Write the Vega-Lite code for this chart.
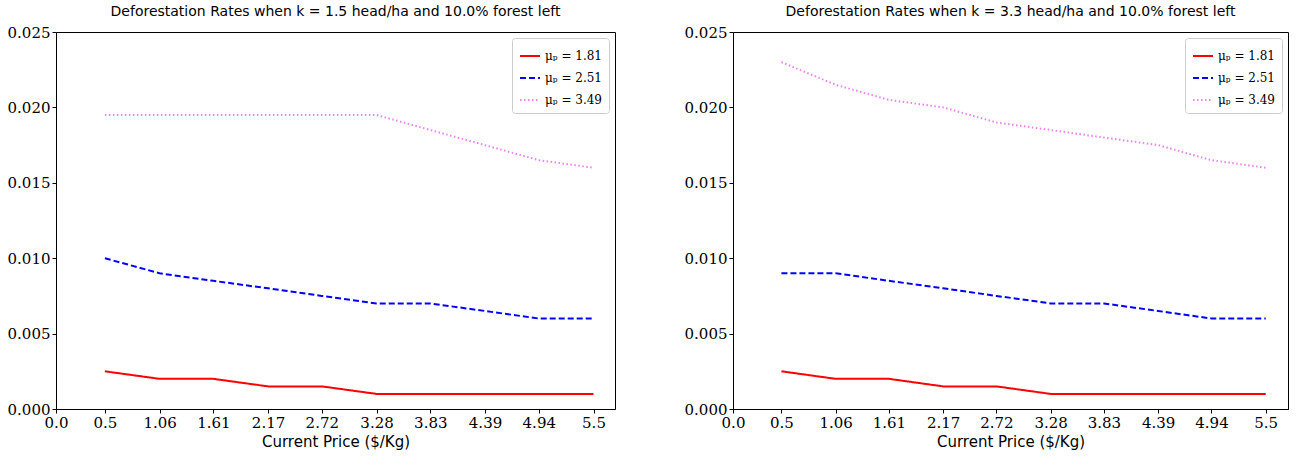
{
  "$schema": "https://vega.github.io/schema/vega-lite/v6.json",
  "padding": {"left": 6, "top": 4, "right": 4, "bottom": 4},
  "background": "white",
  "spacing": 67,
  "datasets": {
    "left": [
      {"price": 0.5, "rate": 0.0025, "series": "μₚ = 1.81"},
      {"price": 1.06, "rate": 0.002, "series": "μₚ = 1.81"},
      {"price": 1.61, "rate": 0.002, "series": "μₚ = 1.81"},
      {"price": 2.17, "rate": 0.0015, "series": "μₚ = 1.81"},
      {"price": 2.72, "rate": 0.0015, "series": "μₚ = 1.81"},
      {"price": 3.28, "rate": 0.001, "series": "μₚ = 1.81"},
      {"price": 3.83, "rate": 0.001, "series": "μₚ = 1.81"},
      {"price": 4.39, "rate": 0.001, "series": "μₚ = 1.81"},
      {"price": 4.94, "rate": 0.001, "series": "μₚ = 1.81"},
      {"price": 5.5, "rate": 0.001, "series": "μₚ = 1.81"},
      {"price": 0.5, "rate": 0.010, "series": "μₚ = 2.51"},
      {"price": 1.06, "rate": 0.009, "series": "μₚ = 2.51"},
      {"price": 1.61, "rate": 0.0085, "series": "μₚ = 2.51"},
      {"price": 2.17, "rate": 0.008, "series": "μₚ = 2.51"},
      {"price": 2.72, "rate": 0.0075, "series": "μₚ = 2.51"},
      {"price": 3.28, "rate": 0.007, "series": "μₚ = 2.51"},
      {"price": 3.83, "rate": 0.007, "series": "μₚ = 2.51"},
      {"price": 4.39, "rate": 0.0065, "series": "μₚ = 2.51"},
      {"price": 4.94, "rate": 0.006, "series": "μₚ = 2.51"},
      {"price": 5.5, "rate": 0.006, "series": "μₚ = 2.51"},
      {"price": 0.5, "rate": 0.0195, "series": "μₚ = 3.49"},
      {"price": 1.06, "rate": 0.0195, "series": "μₚ = 3.49"},
      {"price": 1.61, "rate": 0.0195, "series": "μₚ = 3.49"},
      {"price": 2.17, "rate": 0.0195, "series": "μₚ = 3.49"},
      {"price": 2.72, "rate": 0.0195, "series": "μₚ = 3.49"},
      {"price": 3.28, "rate": 0.0195, "series": "μₚ = 3.49"},
      {"price": 3.83, "rate": 0.0185, "series": "μₚ = 3.49"},
      {"price": 4.39, "rate": 0.0175, "series": "μₚ = 3.49"},
      {"price": 4.94, "rate": 0.0165, "series": "μₚ = 3.49"},
      {"price": 5.5, "rate": 0.016, "series": "μₚ = 3.49"}
    ],
    "right": [
      {"price": 0.5, "rate": 0.0025, "series": "μₚ = 1.81"},
      {"price": 1.06, "rate": 0.002, "series": "μₚ = 1.81"},
      {"price": 1.61, "rate": 0.002, "series": "μₚ = 1.81"},
      {"price": 2.17, "rate": 0.0015, "series": "μₚ = 1.81"},
      {"price": 2.72, "rate": 0.0015, "series": "μₚ = 1.81"},
      {"price": 3.28, "rate": 0.001, "series": "μₚ = 1.81"},
      {"price": 3.83, "rate": 0.001, "series": "μₚ = 1.81"},
      {"price": 4.39, "rate": 0.001, "series": "μₚ = 1.81"},
      {"price": 4.94, "rate": 0.001, "series": "μₚ = 1.81"},
      {"price": 5.5, "rate": 0.001, "series": "μₚ = 1.81"},
      {"price": 0.5, "rate": 0.009, "series": "μₚ = 2.51"},
      {"price": 1.06, "rate": 0.009, "series": "μₚ = 2.51"},
      {"price": 1.61, "rate": 0.0085, "series": "μₚ = 2.51"},
      {"price": 2.17, "rate": 0.008, "series": "μₚ = 2.51"},
      {"price": 2.72, "rate": 0.0075, "series": "μₚ = 2.51"},
      {"price": 3.28, "rate": 0.007, "series": "μₚ = 2.51"},
      {"price": 3.83, "rate": 0.007, "series": "μₚ = 2.51"},
      {"price": 4.39, "rate": 0.0065, "series": "μₚ = 2.51"},
      {"price": 4.94, "rate": 0.006, "series": "μₚ = 2.51"},
      {"price": 5.5, "rate": 0.006, "series": "μₚ = 2.51"},
      {"price": 0.5, "rate": 0.023, "series": "μₚ = 3.49"},
      {"price": 1.06, "rate": 0.0215, "series": "μₚ = 3.49"},
      {"price": 1.61, "rate": 0.0205, "series": "μₚ = 3.49"},
      {"price": 2.17, "rate": 0.020, "series": "μₚ = 3.49"},
      {"price": 2.72, "rate": 0.019, "series": "μₚ = 3.49"},
      {"price": 3.28, "rate": 0.0185, "series": "μₚ = 3.49"},
      {"price": 3.83, "rate": 0.018, "series": "μₚ = 3.49"},
      {"price": 4.39, "rate": 0.0175, "series": "μₚ = 3.49"},
      {"price": 4.94, "rate": 0.0165, "series": "μₚ = 3.49"},
      {"price": 5.5, "rate": 0.016, "series": "μₚ = 3.49"}
    ]
  },
  "config": {
    "view": {"stroke": "black", "strokeWidth": 1},
    "title": {"font": "DejaVu Sans", "fontSize": 14, "fontWeight": "normal", "color": "black", "offset": 6},
    "axis": {
      "grid": false,
      "domainColor": "black",
      "tickColor": "black",
      "tickSize": 4,
      "labelFont": "DejaVu Serif",
      "labelFontSize": 15,
      "labelColor": "black",
      "titleFont": "DejaVu Sans",
      "titleFontSize": 15,
      "titleFontWeight": "normal",
      "titleColor": "black",
      "titlePadding": 4
    },
    "legend": {
      "orient": "top-right",
      "offset": 6,
      "strokeColor": "#cccccc",
      "fillColor": "white",
      "cornerRadius": 3,
      "padding": 7,
      "labelFont": "DejaVu Serif",
      "labelFontSize": 12,
      "labelColor": "black",
      "symbolType": "stroke",
      "symbolStrokeWidth": 2,
      "symbolSize": 400,
      "rowPadding": 5,
      "title": null
    }
  },
  "resolve": {"legend": {"color": "independent", "strokeDash": "independent"}, "scale": {"color": "independent", "strokeDash": "independent"}},
  "hconcat": [
    {
      "width": 559,
      "height": 377,
      "title": "Deforestation Rates when k = 1.5 head/ha and 10.0% forest left",
      "data": {"name": "left"},
      "mark": {"type": "line", "strokeWidth": 2, "clip": true},
      "encoding": {
        "x": {"field": "price", "type": "quantitative", "scale": {"domain": [0, 5.72], "nice": false, "zero": false},
              "axis": {"values": [0, 0.5, 1.06, 1.61, 2.17, 2.72, 3.28, 3.83, 4.39, 4.94, 5.5], "labelExpr": "datum.value == 0 ? '0.0' : format(datum.value, '.2~f')", "title": "Current Price ($/Kg)", "labelFlush": false}},
        "y": {"field": "rate", "type": "quantitative", "scale": {"domain": [0, 0.025], "nice": false},
              "axis": {"values": [0, 0.005, 0.01, 0.015, 0.02, 0.025], "format": ".3f", "title": null, "labelFlush": false}},
        "color": {"field": "series", "type": "nominal", "scale": {"domain": ["μₚ = 1.81", "μₚ = 2.51", "μₚ = 3.49"], "range": ["red", "blue", "violet"]}, "legend": {"title": null}},
        "strokeDash": {"field": "series", "type": "nominal", "scale": {"domain": ["μₚ = 1.81", "μₚ = 2.51", "μₚ = 3.49"], "range": [[1, 0], [6, 3], [1.5, 2.5]]}, "legend": {"title": null}}
      }
    },
    {
      "width": 555,
      "height": 377,
      "title": "Deforestation Rates when k = 3.3 head/ha and 10.0% forest left",
      "data": {"name": "right"},
      "mark": {"type": "line", "strokeWidth": 2, "clip": true},
      "encoding": {
        "x": {"field": "price", "type": "quantitative", "scale": {"domain": [0, 5.73], "nice": false, "zero": false},
              "axis": {"values": [0, 0.5, 1.06, 1.61, 2.17, 2.72, 3.28, 3.83, 4.39, 4.94, 5.5], "labelExpr": "datum.value == 0 ? '0.0' : format(datum.value, '.2~f')", "title": "Current Price ($/Kg)", "labelFlush": false}},
        "y": {"field": "rate", "type": "quantitative", "scale": {"domain": [0, 0.025], "nice": false},
              "axis": {"values": [0, 0.005, 0.01, 0.015, 0.02, 0.025], "format": ".3f", "title": null, "labelFlush": false}},
        "color": {"field": "series", "type": "nominal", "scale": {"domain": ["μₚ = 1.81", "μₚ = 2.51", "μₚ = 3.49"], "range": ["red", "blue", "violet"]}, "legend": {"title": null}},
        "strokeDash": {"field": "series", "type": "nominal", "scale": {"domain": ["μₚ = 1.81", "μₚ = 2.51", "μₚ = 3.49"], "range": [[1, 0], [6, 3], [1.5, 2.5]]}, "legend": {"title": null}}
      }
    }
  ]
}
